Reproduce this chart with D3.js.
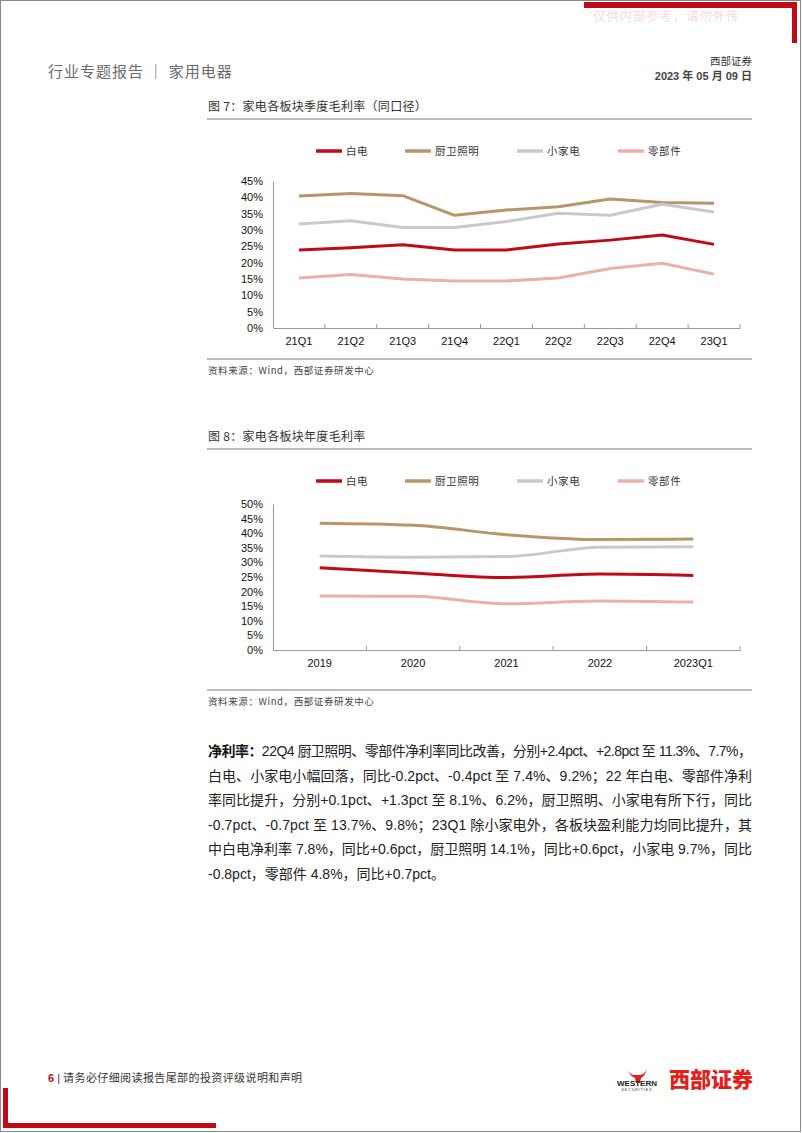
<!DOCTYPE html>
<html><head><meta charset="utf-8">
<script src="https://cdn.jsdelivr.net/npm/d3@7"></script>
<style>
html,body{margin:0;padding:0;background:#fff;}
svg{display:block;}
text{font-family:"Liberation Sans","Noto Sans CJK SC",sans-serif;}
.cjk{font-family:"Noto Sans CJK SC","Liberation Sans",sans-serif;}
</style></head>
<body>
<script>
// ---------- data ----------
const seriesNames = ["白电", "厨卫照明", "小家电", "零部件"];
const seriesColors = ["#C00A18", "#B8956A", "#C9C9C9", "#ECB0A8"];

const quarters = ["21Q1","21Q2","21Q3","21Q4","22Q1","22Q2","22Q3","22Q4","23Q1"];
const qBaidian   = [23.9, 24.6, 25.5, 23.9, 23.9, 25.7, 26.9, 28.5, 25.6];
const qChuwei    = [40.4, 41.2, 40.5, 34.5, 36.1, 37.1, 39.5, 38.4, 38.2];
const qXiaojia   = [31.8, 32.8, 30.8, 30.8, 32.6, 35.1, 34.5, 37.9, 35.5];
const qLingbu    = [15.3, 16.4, 15.0, 14.4, 14.4, 15.3, 18.2, 19.8, 16.5];
const qTicks     = [0, 5, 10, 15, 20, 25, 30, 35, 40, 45];

const years      = ["2019","2020","2021","2022","2023Q1"];
const yBaidian   = [28.2, 26.4, 24.8, 26.0, 25.5];
const yChuwei    = [43.4, 42.7, 39.5, 37.8, 38.0];
const yXiaojia   = [32.2, 31.8, 32.0, 35.2, 35.4];
const yLingbu    = [18.5, 18.4, 15.8, 16.8, 16.4];
const yTicks     = [0, 5, 10, 15, 20, 25, 30, 35, 40, 45, 50];

const paraLines = [
  ["净利率：", "22Q4 厨卫照明、零部件净利率同比改善，分别+2.4pct、+2.8pct 至 11.3%、7.7%，"],
  ["", "白电、小家电小幅回落，同比-0.2pct、-0.4pct 至 7.4%、9.2%；22 年白电、零部件净利"],
  ["", "率同比提升，分别+0.1pct、+1.3pct 至 8.1%、6.2%，厨卫照明、小家电有所下行，同比"],
  ["", "-0.7pct、-0.7pct 至 13.7%、9.8%；23Q1 除小家电外，各板块盈利能力均同比提升，其"],
  ["", "中白电净利率 7.8%，同比+0.6pct，厨卫照明 14.1%，同比+0.6pct，小家电 9.7%，同比"],
  ["", "-0.8pct，零部件 4.8%，同比+0.7pct。"]
];

// ---------- page ----------
const W = 802, H = 1133;
const svg = d3.select("body").append("svg").attr("width", W).attr("height", H);
svg.append("rect").attr("x",0).attr("y",0).attr("width",W).attr("height",H).attr("fill","#fff");
svg.append("rect").attr("x",0.5).attr("y",0.5).attr("width",800).attr("height",1131)
   .attr("fill","none").attr("stroke","#8a8a8a").attr("stroke-width",1);

const RED = "#C00A18";
// top-right red corner
svg.append("rect").attr("x",584).attr("y",2).attr("width",213).attr("height",6).attr("fill",RED);
svg.append("rect").attr("x",792).attr("y",2).attr("width",5).attr("height",41).attr("fill",RED);
svg.append("text").attr("class","cjk").attr("x",593).attr("y",17).attr("dy","0.35em")
   .attr("font-size",12.5).attr("fill","#f3dcdc").attr("letter-spacing",0.8).text("仅供内部参考，请勿外传");

// header
svg.append("text").attr("class","cjk").attr("x",48).attr("y",72).attr("dy","0.35em")
   .attr("font-size",15).attr("fill","#6a6a6a").attr("letter-spacing",1).text("行业专题报告 ｜ 家用电器");
svg.append("text").attr("class","cjk").attr("x",752).attr("y",61).attr("dy","0.35em")
   .attr("text-anchor","end").attr("font-size",10.5).attr("fill","#333").text("西部证券");
svg.append("text").attr("x",752).attr("y",76).attr("dy","0.35em")
   .attr("text-anchor","end").attr("font-size",11).attr("font-weight","bold").attr("fill","#444")
   .text("2023 年 05 月 09 日");

// ---------- chart helper ----------
function drawChart(cfg) {
  const g = svg.append("g");
  g.append("text").attr("class","cjk").attr("x",208).attr("y",cfg.titleY).attr("dy","0.35em")
    .attr("font-size",12).attr("fill","#333").attr("letter-spacing",0.3).text(cfg.title);
  g.append("line").attr("x1",207).attr("x2",752).attr("y1",cfg.titleY+12).attr("y2",cfg.titleY+12)
    .attr("stroke","#777").attr("stroke-width",1);

  const legendX = [316, 405, 517, 618];
  seriesNames.forEach((n,i) => {
    g.append("line").attr("x1",legendX[i]).attr("x2",legendX[i]+26)
      .attr("y1",cfg.legendY).attr("y2",cfg.legendY)
      .attr("stroke",seriesColors[i]).attr("stroke-width",3.5);
    g.append("text").attr("class","cjk").attr("x",legendX[i]+30).attr("y",cfg.legendY).attr("dy","0.35em")
      .attr("font-size",10.5).attr("fill","#333").attr("letter-spacing",0.6).text(n);
  });

  const x = d3.scaleBand().domain(cfg.cats).range([273, 740]);
  const y = d3.scaleLinear().domain([0, d3.max(cfg.ticks)]).range([cfg.y0, cfg.yTop]);

  const ya = g.append("g").attr("transform","translate(273,0)")
    .call(d3.axisLeft(y).tickValues(cfg.ticks).tickFormat(d => d + "%").tickSize(0).tickPadding(10));
  ya.select(".domain").attr("stroke","#999");
  ya.selectAll("text").attr("font-size",11).attr("fill","#111")
    .attr("font-family","'Liberation Sans',Arial,sans-serif");

  const xa = g.append("g").attr("transform",`translate(0,${cfg.y0})`)
    .call(d3.axisBottom(x).tickSize(0).tickPadding(9));
  xa.select(".domain").attr("stroke","#999");
  xa.selectAll("text").attr("font-size",11).attr("fill","#111")
    .attr("font-family","'Liberation Sans',Arial,sans-serif");
  g.selectAll(".bt").data(cfg.cats).enter().append("line")
    .attr("x1", d => x(d) + x.bandwidth()).attr("x2", d => x(d) + x.bandwidth())
    .attr("y1", cfg.y0).attr("y2", cfg.y0 - 4).attr("stroke","#999");

  const line = d3.line()
    .x((d,i) => x(cfg.cats[i]) + x.bandwidth()/2)
    .y(d => y(d))
    .curve(cfg.curve);
  cfg.series.forEach((s,i) => {
    g.append("path").datum(s).attr("d", line).attr("fill","none")
      .attr("stroke", seriesColors[i]).attr("stroke-width",3)
      .attr("stroke-linejoin","round").attr("stroke-linecap","butt");
  });
  g.append("line").attr("x1",207).attr("x2",752).attr("y1",cfg.srcLineY).attr("y2",cfg.srcLineY)
    .attr("stroke","#777").attr("stroke-width",1);
  g.append("text").attr("class","cjk").attr("x",208).attr("y",cfg.srcLineY+12).attr("dy","0.35em")
    .attr("font-size",9.5).attr("fill","#444").attr("letter-spacing",0.6).text("资料来源：Wind，西部证券研发中心");
}

drawChart({
  title: "图 7：家电各板块季度毛利率（同口径）", titleY: 107, legendY: 151,
  cats: quarters, ticks: qTicks, y0: 328, yTop: 181,
  series: [qBaidian, qChuwei, qXiaojia, qLingbu], curve: d3.curveLinear, srcLineY: 359
});
drawChart({
  title: "图 8：家电各板块年度毛利率", titleY: 437, legendY: 481,
  cats: years, ticks: yTicks, y0: 650, yTop: 504,
  series: [yBaidian, yChuwei, yXiaojia, yLingbu], curve: d3.curveMonotoneX, srcLineY: 690
});

// ---------- paragraph ----------
paraLines.forEach((l,i) => {
  const t = svg.append("text").attr("x",208).attr("y",751 + i*24.6).attr("dy","0.35em")
    .attr("font-size",14).attr("fill","#222");
  if (i < paraLines.length - 1) t.attr("textLength",544).attr("lengthAdjust","spacing");
  if (l[0]) t.append("tspan").attr("font-weight","bold").attr("fill","#111").text(l[0]);
  t.append("tspan").text(l[1]);
});

// ---------- footer ----------
const ft = svg.append("text").attr("x",48).attr("y",1078).attr("dy","0.35em").attr("font-size",11);
ft.append("tspan").attr("fill",RED).attr("font-weight","bold").text("6");
ft.append("tspan").attr("fill","#333").text(" | ");
ft.append("tspan").attr("class","cjk").attr("fill","#333").attr("letter-spacing",0.4)
  .text("请务必仔细阅读报告尾部的投资评级说明和声明");
svg.append("rect").attr("x",3).attr("y",1088).attr("width",5).attr("height",40).attr("fill",RED);
svg.append("rect").attr("x",3).attr("y",1123).attr("width",213).attr("height",5).attr("fill",RED);

svg.append("path").attr("d","M627,1069 q3,6 8,6 l4,0 q5,0 8,-6 q-2,7 -6,9 l-1,5 l-4,0 l-1,-5 q-5,-2 -8,-9z")
  .attr("fill","#d8231c");
svg.append("text").attr("x",637).attr("y",1083).attr("dy","0.35em").attr("text-anchor","middle")
  .attr("font-size",8).attr("font-weight","bold").attr("fill","#222").text("WESTERN");
svg.append("text").attr("x",637).attr("y",1090).attr("dy","0.35em").attr("text-anchor","middle")
  .attr("font-size",3.5).attr("fill","#222").attr("letter-spacing",1).text("SECURITIES");
svg.append("text").attr("class","cjk").attr("x",711).attr("y",1080).attr("dy","0.35em").attr("text-anchor","middle")
  .attr("font-size",21).attr("font-weight","900").attr("fill","#E3211B").text("西部证券");
</script>
</body></html>
